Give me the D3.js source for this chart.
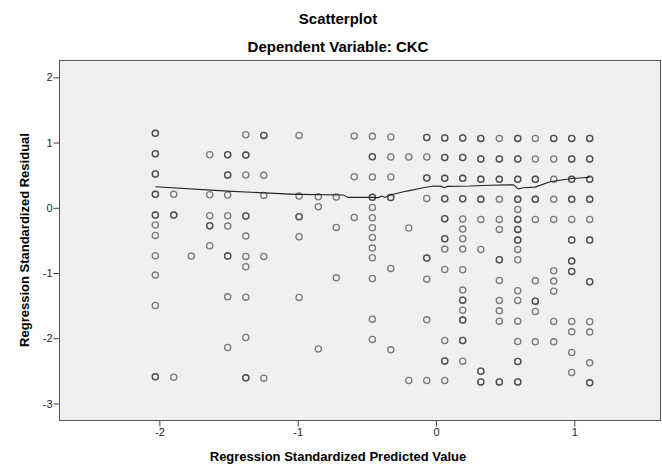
<!DOCTYPE html>
<html>
<head>
<meta charset="utf-8">
<script src="https://cdn.jsdelivr.net/npm/d3@7/dist/d3.min.js"></script>
<style>
  html, body { margin: 0; padding: 0; background: #fff; }
  svg { display: block; font-family: "Liberation Sans", Arial, sans-serif; }
</style>
</head>
<body>
<div id="chart"></div>
<script>
// Standardized predicted values (one entry per column of cases)
const predicted = [
  -2.029, -1.896, -1.769, -1.636, -1.506, -1.375, -1.245, -0.990,
  -0.851, -0.721, -0.591, -0.460, -0.327, -0.197, -0.067, 0.063,
  0.193, 0.324, 0.458, 0.591, 0.718, 0.851, 0.981, 1.111
];

// Standardized residuals of the cases in each column (repeated values are coinciding cases)
const residuals = [
  [1.141, 1.141, 0.828, 0.828, 0.517, 0.517, 0.206, 0.206, -0.112, -0.112, -0.265, -0.423, -0.736, -1.032, -1.497, -2.592, -2.592],
  [0.206, -0.112, -0.112, -2.597],
  [-0.741],
  [0.813, 0.199, -0.123, -0.276, -0.276, -0.583],
  [0.813, 0.813, 0.502, 0.502, 0.195, -0.123, -0.281, -0.741, -0.741, -1.365, -2.141],
  [1.120, 0.808, 0.808, 0.502, -0.127, -0.127, -0.434, -0.745, -0.905, -1.370, -1.988, -2.607, -2.607],
  [1.110, 1.110, 0.497, 0.190, -0.745, -2.612],
  [1.110, 0.179, -0.138, -0.138, -0.445, -1.374],
  [0.169, 0.015, -2.163],
  [0.164, -0.301, -1.074],
  [1.100, 0.475, -0.147],
  [1.095, 0.782, 0.782, 0.471, 0.160, 0.160, 0.006, -0.153, -0.307, -0.454, -0.618, -0.767, -1.083, -1.707, -2.018],
  [1.085, 0.778, 0.471, 0.156, 0.156, -0.929, -2.178],
  [0.778, -0.311, -2.647],
  [1.077, 1.077, 0.778, 0.456, 0.456, 0.144, -0.771, -0.771, -1.094, -1.718, -2.647],
  [1.069, 1.069, 0.770, 0.770, 0.451, 0.451, 0.138, 0.138, -0.169, -0.169, -0.475, -0.475, -0.633, -0.945, -2.034, -2.347, -2.347, -2.647],
  [1.069, 1.069, 0.770, 0.770, 0.451, 0.451, 0.138, 0.138, -0.173, -0.327, -0.475, -0.633, -0.951, -1.262, -1.416, -1.416, -1.569, -1.722, -1.722, -2.034, -2.034, -2.351],
  [1.064, 1.064, 0.747, 0.747, 0.436, 0.436, 0.129, 0.129, -0.178, -0.638, -2.505, -2.505, -2.669, -2.669],
  [1.064, 0.747, 0.747, 0.436, 0.436, 0.129, -0.178, -0.331, -0.797, -0.797, -1.113, -1.420, -1.580, -1.738, -2.669, -2.669],
  [1.064, 1.064, 0.747, 0.747, 0.436, 0.436, 0.129, 0.129, -0.025, -0.178, -0.178, -0.331, -0.331, -0.495, -0.495, -0.638, -0.797, -1.273, -1.420, -1.738, -2.049, -2.356, -2.356, -2.669, -2.669],
  [1.064, 0.747, 0.436, 0.436, 0.129, 0.129, -0.178, -1.120, -1.431, -1.431, -1.589, -2.055],
  [1.064, 1.064, 0.747, 0.436, 0.129, -0.178, -0.966, -1.124, -1.278, -1.742, -2.055],
  [1.064, 1.064, 0.747, 0.747, 0.436, 0.436, 0.129, 0.129, -0.178, -0.495, -0.495, -0.817, -0.817, -0.975, -0.975, -1.742, -1.902, -2.218, -2.525],
  [1.064, 1.064, 0.747, 0.747, 0.436, 0.436, 0.129, 0.129, -0.178, -0.495, -0.495, -1.135, -1.135, -1.748, -1.906, -2.377, -2.684, -2.684]
];

// Loess fit line through the residuals
const fitX = [-2.029, -1.506, -1.055, -0.983, -0.670, -0.634, -0.477, -0.417, -0.393, -0.369, -0.332, -0.212, -0.092, -0.019, 0.041, 0.060, 0.082, 0.246, 0.390, 0.559, 0.595, 0.631, 0.716, 0.824, 0.969, 1.111];
const fitY = [0.322, 0.256, 0.210, 0.206, 0.195, 0.159, 0.159, 0.156, 0.179, 0.159, 0.195, 0.256, 0.307, 0.333, 0.328, 0.307, 0.328, 0.333, 0.346, 0.353, 0.291, 0.307, 0.317, 0.399, 0.445, 0.468];

const xTicks = [-2, -1, 0, 1];
const yTicks = [2, 1, 0, -1, -2, -3];

const title = "Scatterplot";
const subtitle = "Dependent Variable: CKC";
const xLabel = "Regression Standardized Predicted Value";
const yLabel = "Regression Standardized Residual";

const W = 662, H = 466;
const plot = { left: 59.5, right: 660.5, top: 60.5, bottom: 420.5 };

const x = d3.scaleLinear().domain([-2.722, 1.623]).range([plot.left, plot.right]);
const y = d3.scaleLinear().domain([-3.261, 2.258]).range([plot.bottom, plot.top]);

const svg = d3.select("#chart").append("svg")
  .attr("width", W).attr("height", H);

svg.append("rect")
  .attr("x", plot.left).attr("y", plot.top)
  .attr("width", plot.right - plot.left).attr("height", plot.bottom - plot.top)
  .attr("fill", "#f0f0f0").attr("stroke", "#555").attr("stroke-width", 1);

// Axes
const fmt = d => String(d);
const xAxis = svg.append("g")
  .attr("transform", `translate(0,${plot.bottom})`)
  .call(d3.axisBottom(x).tickValues(xTicks).tickFormat(fmt).tickSize(6).tickPadding(2));
const yAxis = svg.append("g")
  .attr("transform", `translate(${plot.left},0)`)
  .call(d3.axisLeft(y).tickValues(yTicks).tickFormat(fmt).tickSize(6).tickPadding(1));
[xAxis, yAxis].forEach(g => {
  g.select(".domain").remove();
  g.selectAll(".tick line").attr("stroke", "#444");
  g.selectAll(".tick text").attr("fill", "#222").style("font-size", "11px")
    .style("font-family", "\"Liberation Sans\", Arial, sans-serif");
});

// Points
const points = [];
predicted.forEach((px, i) => residuals[i].forEach(r => points.push({ px, r })));

svg.append("g").selectAll("circle").data(points).join("circle")
  .attr("cx", d => x(d.px))
  .attr("cy", d => y(d.r))
  .attr("r", 3.1)
  .attr("fill", "none")
  .attr("stroke", "#333")
  .attr("stroke-opacity", 0.62)
  .attr("stroke-width", 1.3);

// Fit line
const line = d3.line().x(d => x(d[0])).y(d => y(d[1]));
svg.append("path")
  .datum(fitX.map((v, i) => [v, fitY[i]]))
  .attr("d", line)
  .attr("fill", "none")
  .attr("stroke", "#222")
  .attr("stroke-width", 1.1);

// Titles
svg.append("text").attr("x", 338).attr("y", 24).attr("text-anchor", "middle")
  .style("font-size", "15px").style("font-weight", "bold").text(title);
svg.append("text").attr("x", 338).attr("y", 52).attr("text-anchor", "middle")
  .style("font-size", "15px").style("font-weight", "bold").text(subtitle);
svg.append("text").attr("x", 338).attr("y", 461).attr("text-anchor", "middle")
  .style("font-size", "13px").style("font-weight", "bold").text(xLabel);
svg.append("text")
  .attr("transform", `translate(29,240) rotate(-90)`)
  .attr("text-anchor", "middle")
  .style("font-size", "13px").style("font-weight", "bold").text(yLabel);
</script>
</body>
</html>
